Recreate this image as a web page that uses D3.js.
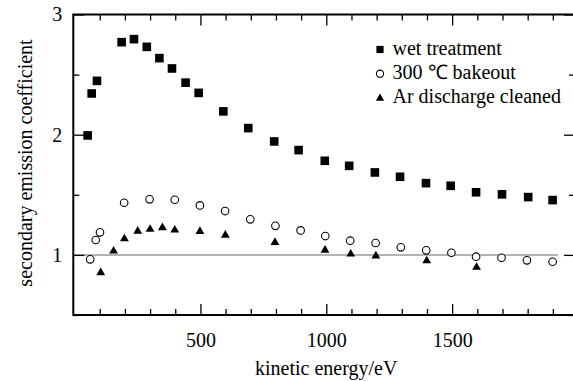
<!DOCTYPE html>
<html>
<head>
<meta charset="utf-8">
<script src="https://cdn.jsdelivr.net/npm/d3@7"></script>
<style>
  html, body { margin: 0; padding: 0; background: #fff; }
  svg { display: block; }
  svg text { font-family: "Liberation Serif", "Times New Roman", serif !important; fill: #000; }
</style>
</head>
<body>
<svg id="chart" width="573" height="381" font-family="Liberation Serif, serif"></svg>
<script>
// ---- data ----
const wetEnergy  = [52, 68, 89, 187, 236, 287, 337, 387, 441, 493, 591, 690, 793, 890, 994, 1091, 1193, 1293, 1396, 1494, 1595, 1698, 1802, 1899];
const wetValue   = [1.994, 2.343, 2.448, 2.770, 2.795, 2.731, 2.637, 2.551, 2.433, 2.348, 2.194, 2.055, 1.944, 1.872, 1.783, 1.741, 1.686, 1.650, 1.597, 1.575, 1.521, 1.504, 1.481, 1.456];

const bakeEnergy = [62, 84, 101, 197, 298, 398, 498, 598, 698, 798, 898, 996, 1095, 1196, 1296, 1397, 1497, 1595, 1696, 1797, 1899];
const bakeValue  = [0.963, 1.124, 1.188, 1.434, 1.462, 1.459, 1.412, 1.365, 1.296, 1.242, 1.204, 1.157, 1.118, 1.099, 1.063, 1.038, 1.018, 0.985, 0.976, 0.955, 0.943];

const arEnergy   = [104, 155, 198, 251, 300, 349, 398, 498, 599, 796, 995, 1097, 1197, 1399, 1597];
const arValue    = [0.852, 1.032, 1.134, 1.198, 1.213, 1.226, 1.207, 1.196, 1.165, 1.104, 1.040, 1.007, 0.991, 0.951, 0.897];

const seriesNames = ["wet treatment", "300 \u2103 bakeout", "Ar discharge cleaned"];
const xMajorTicks = [500, 1000, 1500];
const xMinorTicks = [100, 200, 300, 400, 600, 700, 800, 900, 1100, 1200, 1300, 1400, 1600, 1700, 1800, 1900];
const yMajorTicks = [1, 2, 3];
const yMinorTicks = [0.5, 1.5, 2.5];
const referenceLine = { value: 1, from: -5, to: 1920 };
const xLabel = "kinetic energy/eV";
const yLabel = "secondary emission coefficient";

// ---- layout ----
const svg = d3.select("#chart");
const L = 73.3, R = 575, T = 14.5, B = 315;
const x = d3.scaleLinear().domain([-5, 1988]).range([L, R]);
const y = d3.scaleLinear().domain([0.5, 3]).range([B, T]);
const FS = 20;
const FONT = "'Liberation Serif', 'Times New Roman', serif";

// reference line at 1
svg.append("line")
  .attr("x1", x(referenceLine.from)).attr("x2", x(referenceLine.to))
  .attr("y1", y(referenceLine.value)).attr("y2", y(referenceLine.value))
  .attr("stroke", "#9a9a9a").attr("stroke-width", 1.5);

function styleAxis(g) {
  g.attr("font-family", null).attr("font-size", null);
  g.select(".domain").remove();
  g.selectAll(".tick line").attr("stroke", "#000").attr("stroke-width", 1.3);
  g.selectAll(".tick text").style("font-size", FS + "px").style("font-family", FONT);
}

// bottom axis
svg.append("g").attr("transform", `translate(0,${B})`)
  .call(d3.axisBottom(x).tickValues(xMajorTicks).tickSize(-11).tickPadding(18).tickFormat(d3.format("d")))
  .call(styleAxis);
svg.append("g").attr("transform", `translate(0,${B})`)
  .call(d3.axisBottom(x).tickValues(xMinorTicks).tickSize(-6).tickFormat(""))
  .call(styleAxis);
// top axis
svg.append("g").attr("transform", `translate(0,${T})`)
  .call(d3.axisTop(x).tickValues(xMajorTicks).tickSize(-11).tickFormat(""))
  .call(styleAxis);
svg.append("g").attr("transform", `translate(0,${T})`)
  .call(d3.axisTop(x).tickValues(xMinorTicks).tickSize(-6).tickFormat(""))
  .call(styleAxis);
// left axis
svg.append("g").attr("transform", `translate(${L},0)`)
  .call(d3.axisLeft(y).tickValues(yMajorTicks).tickSize(-11).tickPadding(11).tickFormat(d3.format("d")))
  .call(styleAxis);
svg.append("g").attr("transform", `translate(${L},0)`)
  .call(d3.axisLeft(y).tickValues(yMinorTicks).tickSize(-6).tickFormat(""))
  .call(styleAxis);
// right axis
svg.append("g").attr("transform", `translate(${R},0)`)
  .call(d3.axisRight(y).tickValues(yMajorTicks).tickSize(-11).tickFormat(""))
  .call(styleAxis);
svg.append("g").attr("transform", `translate(${R},0)`)
  .call(d3.axisRight(y).tickValues(yMinorTicks).tickSize(-6).tickFormat(""))
  .call(styleAxis);

// frame
svg.append("rect")
  .attr("x", L).attr("y", T).attr("width", R - L).attr("height", B - T)
  .attr("fill", "none").attr("stroke", "#000").attr("stroke-width", 2);

// series
const wet = wetEnergy.map((e, i) => ({ e, v: wetValue[i] }));
const bake = bakeEnergy.map((e, i) => ({ e, v: bakeValue[i] }));
const ar = arEnergy.map((e, i) => ({ e, v: arValue[i] }));

const sq = 8.6;
svg.append("g").selectAll("rect").data(wet).join("rect")
  .attr("x", d => x(d.e) - sq / 2).attr("y", d => y(d.v) - sq / 2)
  .attr("width", sq).attr("height", sq).attr("fill", "#000");

svg.append("g").selectAll("circle").data(bake).join("circle")
  .attr("cx", d => x(d.e)).attr("cy", d => y(d.v)).attr("r", 3.8)
  .attr("fill", "#fff").attr("stroke", "#000").attr("stroke-width", 1.1);

const tri = d3.symbol().type(d3.symbolTriangle).size(34);
svg.append("g").selectAll("path").data(ar).join("path")
  .attr("transform", d => `translate(${x(d.e)},${y(d.v)})`)
  .attr("d", tri).attr("fill", "#000");

// legend
const legX = 380, legY0 = 49.5, legDY = 24.2;
const leg = svg.append("g");
leg.append("rect").attr("x", legX - 3.6).attr("y", legY0 - 3.6).attr("width", 7.2).attr("height", 7.2).attr("fill", "#000");
leg.append("circle").attr("cx", legX).attr("cy", legY0 + legDY).attr("r", 3.6)
  .attr("fill", "#fff").attr("stroke", "#000").attr("stroke-width", 1.1);
leg.append("path").attr("transform", `translate(${legX},${legY0 + 2 * legDY + 0.5})`)
  .attr("d", d3.symbol().type(d3.symbolTriangle).size(30)).attr("fill", "#000");
seriesNames.forEach((n, i) => {
  leg.append("text").attr("x", 392.5).attr("y", legY0 + i * legDY + 5.5)
    .style("font-size", FS + "px").style("font-family", FONT).text(n);
});

// axis labels
svg.append("text").attr("x", (L + 575) / 2 + 2).attr("y", 375)
  .attr("text-anchor", "middle").style("font-size", FS + "px").style("font-family", FONT).text(xLabel);
svg.append("text").attr("transform", "translate(32,163) rotate(-90)")
  .attr("text-anchor", "middle").style("font-size", FS + "px").style("font-family", FONT).text(yLabel);
</script>
</body>
</html>
